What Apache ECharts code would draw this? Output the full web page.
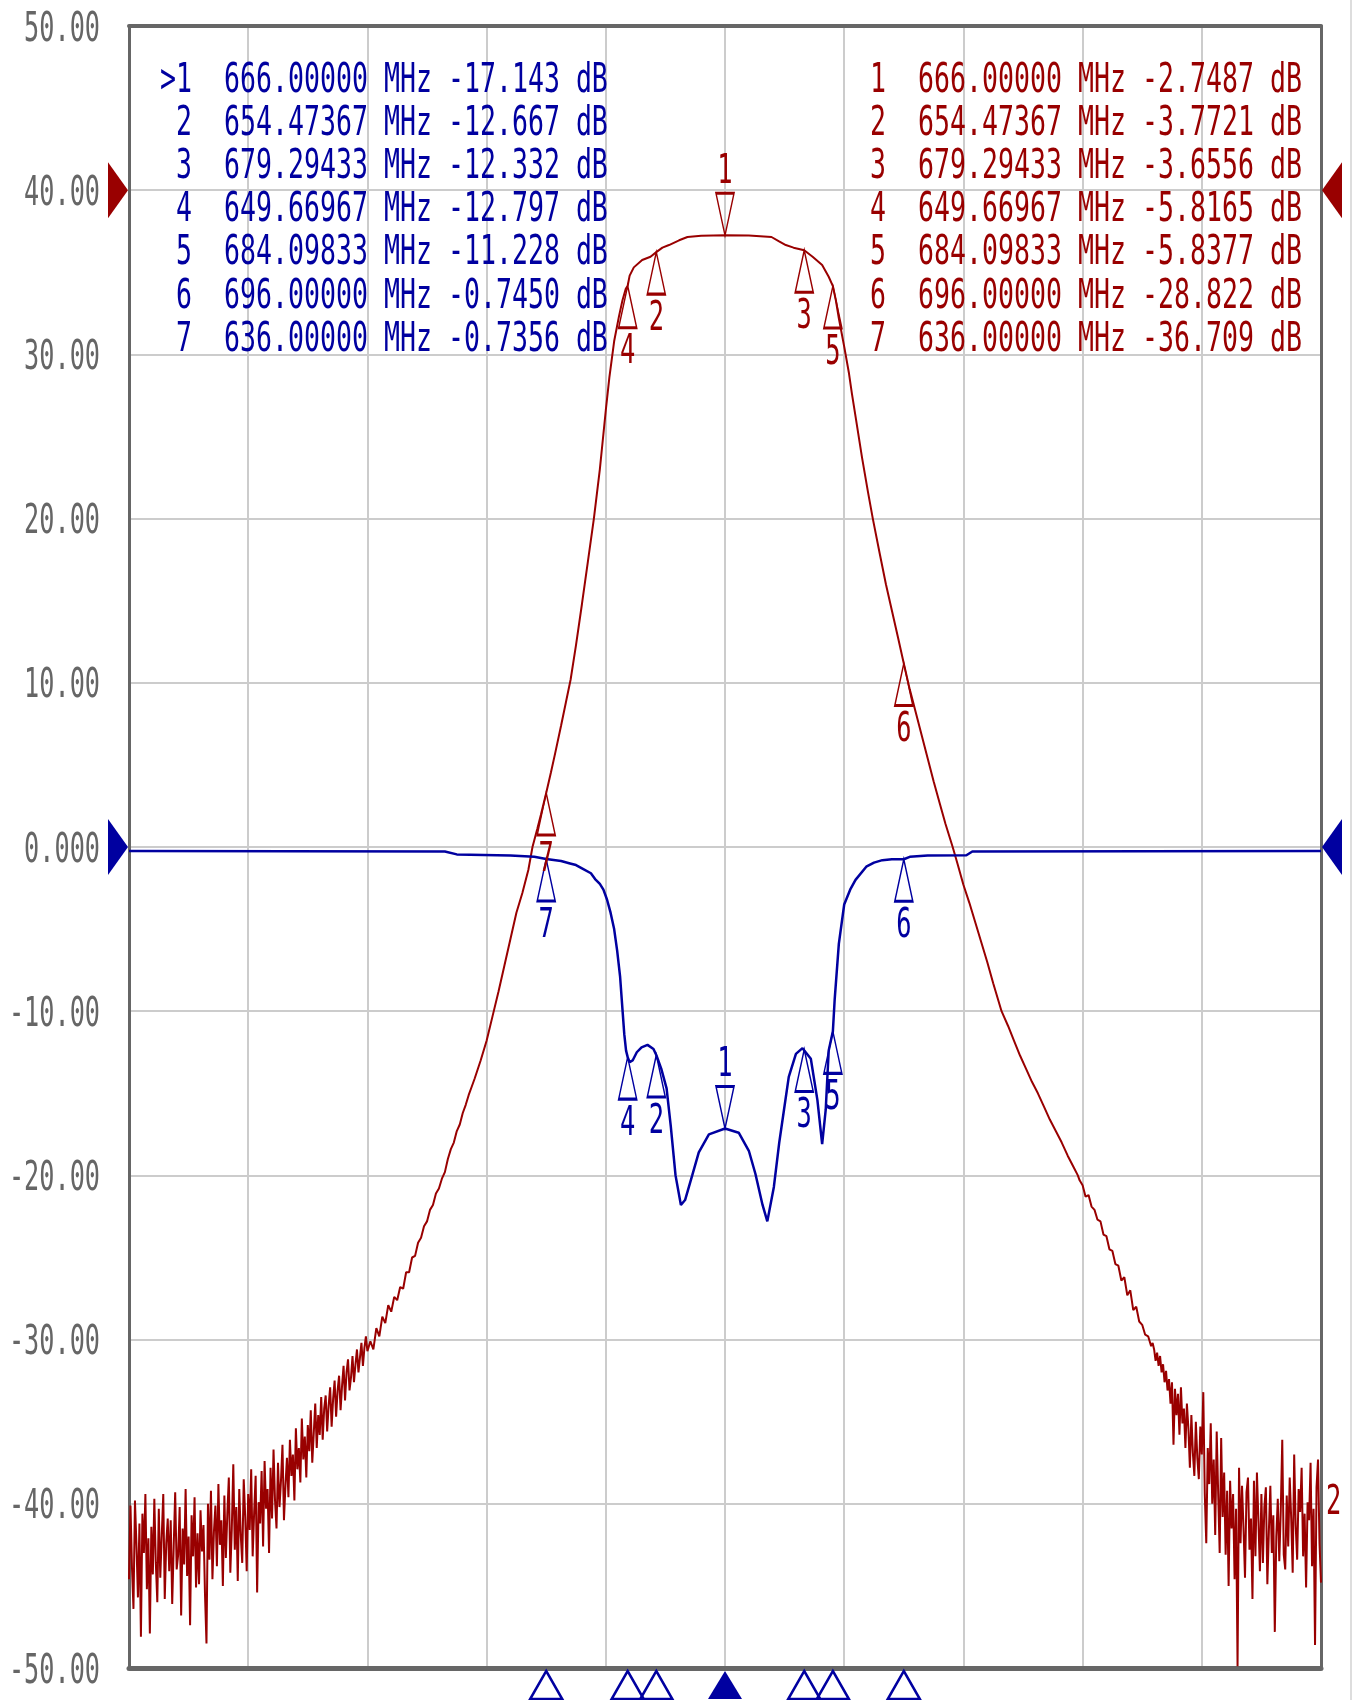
<!DOCTYPE html>
<html>
<head>
<meta charset="utf-8">
<title>S11 / S21 marker view</title>
<script src="https://cdn.jsdelivr.net/npm/echarts@6/dist/echarts.min.js"></script>
<style>
  html, body { margin: 0; padding: 0; background: #fff; }
  #chart { width: 1354px; height: 1700px; }
</style>
</head>
<body>
<div id="chart"></div>
<script>
// sweep 566 .. 766 MHz, 20 MHz/div ; 10 dB/div
const freqStart = 566;
const freqStop = 766;
const freqDiv = 20;
const dbMin = -50;
const dbMax = 50;
const dbDiv = 10;
const yTickValues = [50, 40, 30, 20, 10, 0, -10, -20, -30, -40, -50];
const yTickLabels = ['50.00', '40.00', '30.00', '20.00', '10.00', '0.000', '-10.00', '-20.00', '-30.00', '-40.00', '-50.00'];

// reference positions (grid value where each trace's 0 dB sits)
const s11RefPos = 0;
const s21RefPos = 40;

// markers
const markerNo = [1, 2, 3, 4, 5, 6, 7];
const markerFreq = [666.0, 654.47367, 679.29433, 649.66967, 684.09833, 696.0, 636.0];
const markerFreqText = ['666.00000', '654.47367', '679.29433', '649.66967', '684.09833', '696.00000', '636.00000'];
const s11MarkerDb = [-17.143, -12.667, -12.332, -12.797, -11.228, -0.7450, -0.7356];
const s11MarkerText = ['-17.143', '-12.667', '-12.332', '-12.797', '-11.228', '-0.7450', '-0.7356'];
const s21MarkerDb = [-2.7487, -3.7721, -3.6556, -5.8165, -5.8377, -28.822, -36.709];
const s21MarkerText = ['-2.7487', '-3.7721', '-3.6556', '-5.8165', '-5.8377', '-28.822', '-36.709'];

// S21 trace, dB. the noisy tails are sweep points every 0.25 MHz
const tailStep = 0.25;
const s21LowTailStart = 566;
const s21LowTail = [
  -84.6, -80.1, -83.9, -86.4, -79.8, -82.5, -85.7, -81.2, -88.1, -80.6,
  -83.0, -79.4, -85.2, -82.1, -87.9, -81.4, -84.3, -79.7, -83.6, -86.0,
  -80.3, -84.5, -81.9, -79.4, -85.8, -82.4, -80.9, -84.1, -81.0, -86.1,
  -82.6, -79.3, -84.0, -83.1, -80.2, -86.8, -81.5, -83.7, -79.1, -84.4,
  -82.0, -87.4, -80.7, -83.2, -79.6, -85.1, -81.8, -84.9, -80.4, -82.9,
  -81.3, -85.5, -88.5, -80.0, -83.4, -79.2, -84.6, -81.7, -80.1, -83.8,
  -78.8, -82.5, -81.0, -85.0, -79.5, -83.3, -80.6, -78.4, -84.2, -81.5,
  -77.6, -82.8, -80.2, -84.7, -79.1, -81.9, -83.6, -78.5, -80.8, -84.1,
  -79.4, -81.6, -77.9, -83.2, -80.5, -78.3, -85.4, -79.9, -81.2, -78.0,
  -82.6, -77.4, -80.3, -79.1, -83.0, -77.8, -80.9, -76.7, -79.8, -81.5,
  -77.5, -80.2, -78.6, -76.4, -81.0, -78.9, -77.2, -79.6, -76.1, -78.3,
  -77.0, -79.8, -75.4, -77.9, -76.6, -78.7, -74.8, -77.3, -75.9, -78.4,
  -75.2, -76.8, -74.3, -77.5, -75.7, -73.9, -76.6, -74.6, -75.8, -73.5,
  -76.1, -74.2, -73.4, -75.6, -74.0, -72.9, -75.3, -73.6, -72.5, -74.7,
  -73.1, -72.2, -74.3, -72.8, -71.6, -73.7, -72.0, -71.2, -73.1, -72.3,
  -71.0, -72.6, -71.5, -70.6, -72.0, -71.1, -70.2, -71.6, -70.5, -69.8,
  -70.7
];
const s21Skirts = [
  [606.5, -70.1], [607, -70.6], [607.5, -69.3], [608, -69.8], [608.5, -68.6],
  [609, -69.0], [609.5, -67.9], [610, -68.3], [610.5, -67.4], [611, -67.6],
  [611.5, -66.8], [612, -66.9], [612.5, -65.9], [613, -65.9], [613.5, -65.0],
  [614, -64.9], [614.5, -64.1], [615, -63.8], [615.5, -63.1], [616, -62.8],
  [616.5, -62.1], [617, -61.8], [617.5, -61.1], [618, -60.8], [618.5, -60.2],
  [619, -59.8], [619.5, -59.0], [620, -58.4], [620.5, -58.0], [621, -57.3],
  [621.5, -56.9], [622, -56.2], [622.5, -55.7], [623, -55.1], [623.5, -54.6],
  [624, -54.1], [625, -53.0], [626, -51.8], [627, -50.3], [628, -48.8],
  [629, -47.2], [630, -45.6], [631, -44.0], [632, -42.8], [633, -41.4],
  [633.7, -40.0], [634.5, -38.9], [635.1, -38.05], [636, -36.709], [636.8, -35.45],
  [637.5, -34.3], [638.5, -32.6], [639.3, -31.2], [640.1, -29.8], [641, -27.7],
  [642, -25.2], [643, -22.6], [644, -20.0], [645, -17.0], [646, -13.4],
  [646.6, -11.4], [647.4, -9.2], [648.2, -7.7], [648.8, -6.7], [649.35, -6.0],
  [649.67, -5.8165], [650, -5.2], [650.7, -4.7], [652.1, -4.25], [653.5, -4.05],
  [654.47, -3.7721], [655.5, -3.5], [656.6, -3.34], [658.3, -3.05], [659.7, -2.85],
  [662, -2.78], [666, -2.7487], [670, -2.76], [673.8, -2.85], [675, -3.1],
  [676.2, -3.34], [677.5, -3.5], [679.29, -3.6556], [680.7, -4.05], [682.3, -4.55],
  [683.4, -5.27], [684.1, -5.8377], [684.6, -6.7], [685.1, -7.8], [686, -9.53],
  [686.8, -11.15], [687.3, -12.4], [688, -14.0], [689, -16.3], [690, -18.4],
  [690.8, -20.0], [692, -22.2], [693, -24.0], [694, -25.6], [695, -27.2],
  [696, -28.822], [697, -30.4], [698, -31.8], [699, -33.2], [700, -34.6],
  [701, -36.0], [702, -37.3], [703, -38.6], [704.2, -40.0], [705, -41.0],
  [706, -42.3], [707, -43.4], [708, -44.6], [709, -45.8], [710, -47.0],
  [711, -48.3], [712.4, -50.0], [713.5, -50.9], [714.5, -51.8], [715.5, -52.7],
  [716.5, -53.5], [717.5, -54.3], [718.5, -55.0], [719.5, -55.8], [720.5, -56.6],
  [721.5, -57.3], [722.5, -58.0], [723.5, -58.8], [724.5, -59.5], [725.2, -60.0],
  [725.5, -60.3], [726, -60.6], [726.5, -61.3], [727, -61.2], [727.5, -61.9],
  [728, -62.1], [728.5, -62.7], [729, -62.8], [729.5, -63.6], [730, -63.7],
  [730.5, -64.5], [731, -64.6], [731.5, -65.4], [732, -65.5], [732.5, -66.4],
  [733, -66.2], [733.5, -67.3], [734, -67.0], [734.5, -68.2], [735, -68.0],
  [735.5, -68.9], [736, -69.1], [736.5, -69.7], [737, -69.8], [737.5, -70.4],
  [737.75, -70.2]
];
const s21HighTailStart = 738;
const s21HighTail = [
  -70.6, -71.3, -70.8, -71.6, -71.0, -72.0, -71.5, -72.6, -71.9, -73.1,
  -72.4, -73.9, -72.6, -76.4, -73.0, -74.6, -73.3, -75.8, -72.9, -75.1,
  -74.2, -76.6, -73.9, -75.4, -77.8, -74.6, -76.9, -78.3, -75.0, -77.2,
  -78.5, -75.3, -77.0, -73.2, -79.4, -82.4, -76.6, -78.8, -75.1, -80.0,
  -77.3, -81.9, -75.6, -79.4, -83.0, -76.0, -80.8, -78.1, -83.1, -79.2,
  -85.0, -78.6, -81.5, -79.4, -84.6, -80.3, -89.9, -77.8, -82.4, -78.9,
  -81.5, -84.5, -79.3, -78.4, -82.8, -80.9, -85.8, -78.6, -83.2, -78.1,
  -81.0, -84.1, -79.4, -83.6, -80.2, -79.0, -84.9, -81.7, -78.9, -83.0,
  -80.7, -87.8, -82.0, -79.7, -83.5, -80.4, -76.1, -83.1, -84.0, -79.5,
  -82.6, -78.4, -80.9, -84.2, -77.0, -81.3, -83.4, -79.1, -80.5, -77.8,
  -83.2, -80.6, -85.1, -79.9, -81.0, -77.5, -83.8, -80.3, -88.6, -79.0,
  -77.3, -82.4, -84.8
];

// S11 trace, dB
const s11Trace = [
  [566, -0.25], [619, -0.27], [621, -0.45], [630, -0.52], [634, -0.6],
  [636, -0.7356], [638.5, -0.85], [640, -1.0], [641, -1.1], [642, -1.3],
  [643.5, -1.6], [644.2, -1.95], [645, -2.25], [645.6, -2.6], [646.2, -3.2],
  [646.8, -4.0], [647.4, -5.0], [647.9, -6.3], [648.4, -7.9], [648.8, -9.9],
  [649.1, -11.4], [649.4, -12.4], [649.67, -12.797], [650, -13.1], [650.5, -13.0],
  [651.2, -12.5], [652, -12.2], [653, -12.05], [654, -12.3], [654.47, -12.667],
  [655.3, -13.5], [656.2, -14.7], [656.9, -17.0], [657.7, -20.0], [658.6, -21.8],
  [659.3, -21.5], [660.5, -20.0], [661.6, -18.6], [663.3, -17.5], [666, -17.143],
  [668.3, -17.4], [670, -18.5], [671.1, -19.9], [672.3, -21.8], [673.1, -22.8],
  [674.2, -20.7], [675.1, -18.0], [675.9, -16.0], [676.7, -14.0], [677.9, -12.6],
  [679, -12.25], [679.29, -12.332], [680.4, -12.9], [681.5, -15.4], [682.3, -18.1],
  [682.9, -16.0], [683.4, -12.4], [684.1, -11.228], [684.4, -9.3], [685.1, -5.9],
  [686, -3.5], [687, -2.6], [687.9, -2.0], [689.7, -1.2], [691, -0.95],
  [692.4, -0.8], [694, -0.75], [696, -0.745], [697, -0.6], [700, -0.52],
  [706.5, -0.5], [707.5, -0.27], [766, -0.25]
];

const red = '#990000';
const blue = '#0000a0';
const axisGray = '#666666';
const gridGray = '#cccccc';
const monoFont = '"DejaVu Sans Mono", "Liberation Mono", monospace';

// triangles used by the analyzer for markers / reference arrows
const triUp = 'path://M9,0 L18,42 L0,42 Z';
const triDown = 'path://M0,0 L18,0 L9,42 Z';
const triSmall = 'path://M16,0 L32,28 L0,28 Z';
const arrowRight = 'path://M0,0 L20,28 L0,56 Z';
const arrowLeft = 'path://M20,0 L0,28 L20,56 Z';

const s21Plot = []
  .concat(s21LowTail.map((v, i) => [s21LowTailStart + i * tailStep, v]))
  .concat(s21Skirts)
  .concat(s21HighTail.map((v, i) => [s21HighTailStart + i * tailStep, v]))
  .map(p => [p[0], p[1] + s21RefPos]);
const s11Plot = s11Trace.map(p => [p[0], p[1] + s11RefPos]);

const s21MarkPts = markerFreq.map((f, i) => [f, s21MarkerDb[i] + s21RefPos]);
const s11MarkPts = markerFreq.map((f, i) => [f, s11MarkerDb[i] + s11RefPos]);

function markerSeries(pts, color, active) {
  return {
    type: 'scatter',
    data: active ? pts.slice(0, 1) : pts.slice(1),
    symbol: active ? triDown : triUp,
    symbolSize: [18, 42],
    symbolOffset: [0, active ? -21 : 21],
    itemStyle: { color: 'rgba(255,255,255,0)', borderColor: color, borderWidth: 2, opacity: 1 },
    clip: false,
    silent: true,
    z: 5,
  };
}

function arrowSeries(pt, color, left) {
  return {
    type: 'scatter',
    data: [pt],
    symbol: left ? arrowRight : arrowLeft,
    symbolSize: [20, 56],
    symbolOffset: [left ? -11 : 11, 0],
    itemStyle: { color: color, opacity: 1 },
    clip: false,
    silent: true,
    z: 6,
  };
}

const chart = echarts.init(document.getElementById('chart'));

const option = {
  animation: false,
  backgroundColor: '#ffffff',
  grid: { left: 129, right: 33, top: 26, bottom: 32 },
  xAxis: [
    {
      type: 'value',
      min: freqStart,
      max: freqStop,
      interval: freqDiv,
      axisLabel: { show: false },
      axisTick: { show: false },
      axisLine: { show: true, onZero: false, lineStyle: { color: axisGray, width: 5 } },
      splitLine: { show: true, showMinLine: false, showMaxLine: false, lineStyle: { color: gridGray, width: 2 } },
    },
    {
      type: 'value',
      position: 'top',
      min: freqStart,
      max: freqStop,
      axisLabel: { show: false },
      axisTick: { show: false },
      axisLine: { show: true, onZero: false, lineStyle: { color: axisGray, width: 4 } },
      splitLine: { show: false },
    },
  ],
  yAxis: [
    {
      type: 'value',
      min: dbMin,
      max: dbMax,
      interval: dbDiv,
      axisLabel: { show: false },
      axisTick: { show: false },
      axisLine: { show: true, onZero: false, lineStyle: { color: axisGray, width: 3 } },
      splitLine: { show: true, showMinLine: false, showMaxLine: false, lineStyle: { color: gridGray, width: 2 } },
    },
    {
      type: 'value',
      position: 'right',
      min: dbMin,
      max: dbMax,
      axisLabel: { show: false },
      axisTick: { show: false },
      axisLine: { show: true, onZero: false, lineStyle: { color: axisGray, width: 3 } },
      splitLine: { show: false },
    },
  ],
  series: [
    {
      name: 'Trc2 S21',
      type: 'line',
      data: s21Plot,
      symbol: 'none',
      lineStyle: { color: red, width: 2 },
      silent: true,
      z: 2,
    },
    {
      name: 'Trc1 S11',
      type: 'line',
      data: s11Plot,
      symbol: 'none',
      lineStyle: { color: blue, width: 2.5 },
      silent: true,
      z: 3,
    },
    markerSeries(s21MarkPts, red, false),
    markerSeries(s21MarkPts, red, true),
    markerSeries(s11MarkPts, blue, false),
    markerSeries(s11MarkPts, blue, true),
    // marker positions under the x axis
    {
      type: 'scatter',
      data: markerFreq.slice(1).map(f => [f, dbMin]),
      symbol: triSmall,
      symbolSize: [32, 28],
      symbolOffset: [0, 17],
      itemStyle: { color: 'rgba(255,255,255,0)', borderColor: blue, borderWidth: 2.5, opacity: 1 },
      clip: false,
      silent: true,
      z: 6,
    },
    {
      type: 'scatter',
      data: markerFreq.slice(0, 1).map(f => [f, dbMin]),
      symbol: triSmall,
      symbolSize: [34, 28],
      symbolOffset: [0, 17],
      itemStyle: { color: blue, opacity: 1 },
      clip: false,
      silent: true,
      z: 6,
    },
    arrowSeries([freqStart, s21RefPos], red, true),
    arrowSeries([freqStop, s21RefPos], red, false),
    arrowSeries([freqStart, s11RefPos], blue, true),
    arrowSeries([freqStop, s11RefPos], blue, false),
  ],
};

chart.setOption(option);

// texts: drawn as narrow monospace, placed with the chart's own scales
function txt(text, x, y, color, align, sx) {
  return {
    type: 'text',
    x: x,
    y: y,
    scaleX: sx,
    z: 50,
    silent: true,
    style: {
      text: text,
      fill: color,
      fontFamily: monoFont,
      fontSize: 41,
      align: align,
      verticalAlign: 'middle',
    },
  };
}

const elements = [];
yTickValues.forEach((v, i) => {
  const p = chart.convertToPixel({ gridIndex: 0 }, [freqStart, v]);
  elements.push(txt(yTickLabels[i], 100, p[1] + 4, axisGray, 'right', 0.615));
});

markerNo.forEach((n, i) => {
  const y = 81 + i * 43.2;
  const head = i === 0 ? '>' + n : ' ' + n;
  elements.push(txt(head + '  ' + markerFreqText[i] + ' MHz ' + s11MarkerText[i] + ' dB', 160, y, blue, 'left', 0.648));
  elements.push(txt(n + '  ' + markerFreqText[i] + ' MHz ' + s21MarkerText[i] + ' dB', 870, y, red, 'left', 0.648));
});

[[s21MarkPts, red], [s11MarkPts, blue]].forEach(([pts, color]) => {
  pts.forEach((pt, i) => {
    const p = chart.convertToPixel({ gridIndex: 0 }, pt);
    const dy = i === 0 ? -63 : 67;
    elements.push(txt(String(markerNo[i]), p[0], p[1] + dy, color, 'center', 0.62));
  });
});

// channel tag at the right end of trace 2
elements.push(txt('2', 1326, 1503, red, 'left', 0.62));
// window edge
elements.push({ type: 'rect', shape: { x: 1350, y: 0, width: 2, height: 1700 }, style: { fill: '#dddddd' }, silent: true });

chart.setOption({ graphic: { elements: elements } });
</script>
</body>
</html>
